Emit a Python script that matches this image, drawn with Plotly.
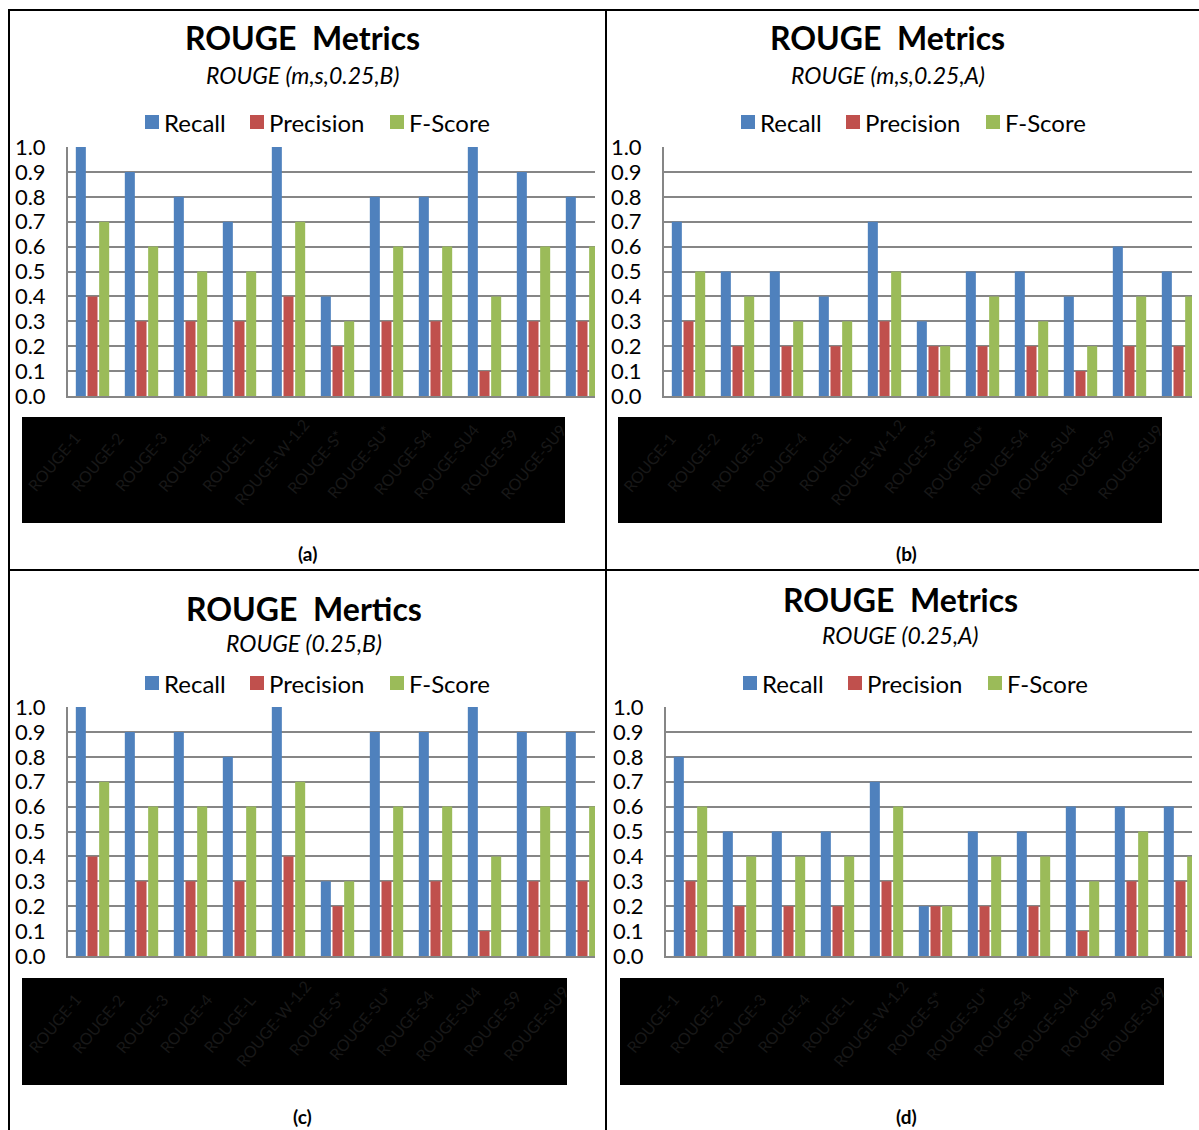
import plotly.graph_objects as go

W, H = 1199, 1130
FONT = "Lato"

categories = ["ROUGE-1", "ROUGE-2", "ROUGE-3", "ROUGE-4", "ROUGE-L", "ROUGE-W-1.2",
              "ROUGE-S*", "ROUGE-SU*", "ROUGE-S4", "ROUGE-SU4", "ROUGE-S9"]
box_labels = categories + ["ROUGE-SU9"]
series_names = ["Recall", "Precision", "F-Score"]
series_colors = ["#4F81BD", "#C0504D", "#9BBB59"]
y_ticks = [0.0, 0.1, 0.2, 0.3, 0.4, 0.5, 0.6, 0.7, 0.8, 0.9, 1.0]

titles = ["ROUGE  Metrics", "ROUGE  Metrics", "ROUGE  Mertics", "ROUGE  Metrics"]
subtitles = ["ROUGE (m,s,0.25,B)", "ROUGE (m,s,0.25,A)", "ROUGE (0.25,B)", "ROUGE (0.25,A)"]
captions = ["(a)", "(b)", "(c)", "(d)"]

recall_a = [1.0, 0.9, 0.8, 0.7, 1.0, 0.4, 0.8, 0.8, 1.0, 0.9, 0.8]
precision_a = [0.4, 0.3, 0.3, 0.3, 0.4, 0.2, 0.3, 0.3, 0.1, 0.3, 0.3]
fscore_a = [0.7, 0.6, 0.5, 0.5, 0.7, 0.3, 0.6, 0.6, 0.4, 0.6, 0.6]

recall_b = [0.7, 0.5, 0.5, 0.4, 0.7, 0.3, 0.5, 0.5, 0.4, 0.6, 0.5]
precision_b = [0.3, 0.2, 0.2, 0.2, 0.3, 0.2, 0.2, 0.2, 0.1, 0.2, 0.2]
fscore_b = [0.5, 0.4, 0.3, 0.3, 0.5, 0.2, 0.4, 0.3, 0.2, 0.4, 0.4]

recall_c = [1.0, 0.9, 0.9, 0.8, 1.0, 0.3, 0.9, 0.9, 1.0, 0.9, 0.9]
precision_c = [0.4, 0.3, 0.3, 0.3, 0.4, 0.2, 0.3, 0.3, 0.1, 0.3, 0.3]
fscore_c = [0.7, 0.6, 0.6, 0.6, 0.7, 0.3, 0.6, 0.6, 0.4, 0.6, 0.6]

recall_d = [0.8, 0.5, 0.5, 0.5, 0.7, 0.2, 0.5, 0.5, 0.6, 0.6, 0.6]
precision_d = [0.3, 0.2, 0.2, 0.2, 0.3, 0.2, 0.2, 0.2, 0.1, 0.3, 0.3]
fscore_d = [0.6, 0.4, 0.4, 0.4, 0.6, 0.2, 0.4, 0.4, 0.3, 0.5, 0.4]

panel_data = [
    (recall_a, precision_a, fscore_a),
    (recall_b, precision_b, fscore_b),
    (recall_c, precision_c, fscore_c),
    (recall_d, precision_d, fscore_d),
]

# layout geometry (pixels)
panels = [
    dict(px0=68, px1=595, py0=147, py1=396, tx=303, ty=38, sy=75, ly=122, lx=145,
         box=(22, 417, 565, 523), cap=(307, 553)),
    dict(px0=664, px1=1192, py0=147, py1=396, tx=888, ty=38, sy=75, ly=122, lx=741,
         box=(618, 417, 1162, 523), cap=(906, 553)),
    dict(px0=68, px1=595, py0=707, py1=956, tx=304, ty=608, sy=643, ly=683, lx=145,
         box=(22, 978, 567, 1085), cap=(302, 1116)),
    dict(px0=666, px1=1192, py0=707, py1=956, tx=900, ty=599, sy=635, ly=683, lx=743,
         box=(620, 978, 1164, 1085), cap=(906, 1116)),
]
legend_offsets = [0, 105, 245]


def fx(x):
    return x / W


def fy(y):
    return 1 - y / H


fig = go.Figure()
shapes = []
annotations = []

for i, (p, vals) in enumerate(zip(panels, panel_data)):
    n = i + 1
    xa = "x" if n == 1 else f"x{n}"
    ya = "y" if n == 1 else f"y{n}"
    for name, color, v in zip(series_names, series_colors, vals):
        fig.add_trace(go.Bar(x=categories, y=v, name=name, marker_color=color,
                             marker_line_width=0, xaxis=xa, yaxis=ya,
                             showlegend=False, hoverinfo="skip"))
    span = (p["px1"] - p["px0"]) / 49.0
    axkey = "xaxis" if n == 1 else f"xaxis{n}"
    aykey = "yaxis" if n == 1 else f"yaxis{n}"
    fig.update_layout(**{
        axkey: dict(domain=[fx(p["px0"]), fx(p["px1"])], anchor=ya,
                    range=[-0.5, -0.5 + span], showticklabels=False, ticks="",
                    showgrid=False, showline=True, linecolor="#868686",
                    linewidth=2, zeroline=False, fixedrange=True, automargin=False),
        aykey: dict(domain=[fy(p["py1"]), fy(p["py0"])], anchor=xa,
                    range=[0, 1.0], tickvals=y_ticks, tickformat=".1f",
                    showgrid=True, gridcolor="#868686", gridwidth=2,
                    showline=True, linecolor="#868686", linewidth=2,
                    zeroline=False, ticks="", ticklabelstandoff=16, automargin=False,
                    fixedrange=True,
                    tickfont=dict(family=FONT, size=22, color="black")),
    })
    # titles
    annotations.append(dict(x=fx(p["tx"]), y=fy(p["ty"]), xref="paper", yref="paper",
                            text="<b>" + titles[i] + "</b>", showarrow=False,
                            xanchor="center", yanchor="middle",
                            font=dict(family=FONT, size=32, color="black")))
    annotations.append(dict(x=fx(p["tx"]), y=fy(p["sy"]), xref="paper", yref="paper",
                            text="<i>" + subtitles[i] + "</i>", showarrow=False,
                            xanchor="center", yanchor="middle",
                            font=dict(family=FONT, size=23, color="black")))
    # legend
    for name, color, off in zip(series_names, series_colors, legend_offsets):
        sx = p["lx"] + off
        shapes.append(dict(type="rect", xref="paper", yref="paper",
                           x0=fx(sx), x1=fx(sx + 14), y0=fy(p["ly"] + 7), y1=fy(p["ly"] - 7),
                           fillcolor=color, line_width=0))
        annotations.append(dict(x=fx(sx + 17), y=fy(p["ly"]), xref="paper", yref="paper",
                                text=name, showarrow=False, xanchor="left", yanchor="middle",
                                font=dict(family=FONT, size=24, color="black")))
    # black label box
    bx0, by0, bx1, by1 = p["box"]
    shapes.append(dict(type="rect", xref="paper", yref="paper",
                       x0=fx(bx0), x1=fx(bx1), y0=fy(by1), y1=fy(by0),
                       fillcolor="black", line_width=0, layer="above"))
    step = (bx1 - bx0 - 20) / len(box_labels)
    for k, lab in enumerate(box_labels):
        cx = bx0 + 32 + step * k
        annotations.append(dict(x=fx(cx), y=fy(by0 + 45), xref="paper", yref="paper",
                                text=lab, showarrow=False, textangle=-50,
                                xanchor="center", yanchor="middle",
                                font=dict(family=FONT, size=16, color="#181818")))
    # caption
    annotations.append(dict(x=fx(p["cap"][0]), y=fy(p["cap"][1]), xref="paper", yref="paper",
                            text="<b>" + captions[i] + "</b>", showarrow=False,
                            xanchor="center", yanchor="middle",
                            font=dict(family=FONT, size=19, color="black")))

# table borders
for (x0, y0, x1, y1) in [(8, 10, 1199, 10), (8, 570, 1199, 570),
                         (9, 10, 9, 1130), (606, 10, 606, 1130)]:
    shapes.append(dict(type="line", xref="paper", yref="paper",
                       x0=fx(x0), x1=fx(x1), y0=fy(y0), y1=fy(y1),
                       line=dict(color="black", width=2)))

fig.update_layout(width=W, height=H, autosize=False,
                  margin=dict(l=0, r=0, t=0, b=0, pad=0, autoexpand=False),
                  paper_bgcolor="white", plot_bgcolor="white",
                  barmode="group", bargap=0.286, bargroupgap=0.14,
                  shapes=shapes, annotations=annotations,
                  font=dict(family=FONT))

fig.write_html("out.html", config={"displayModeBar": False},
               post_script="document.body.style.margin='0px';document.body.style.overflow='hidden';")
